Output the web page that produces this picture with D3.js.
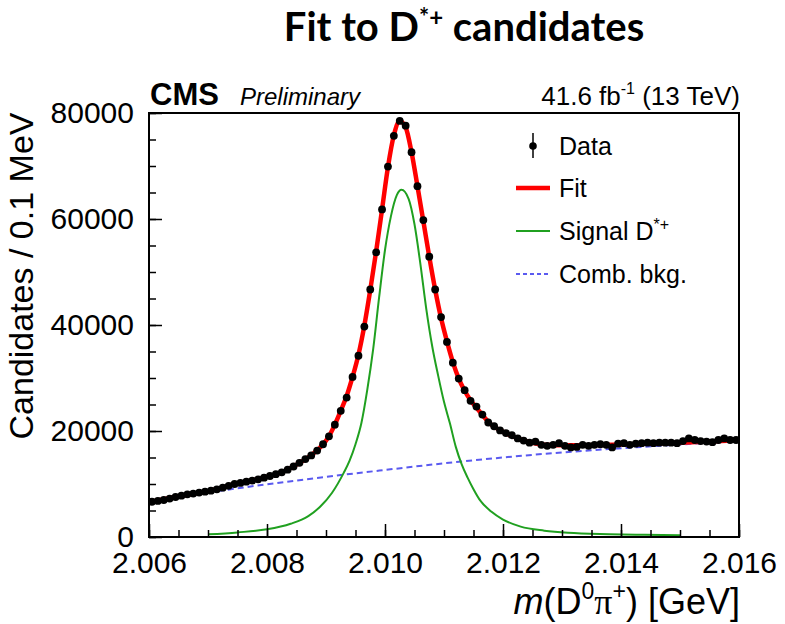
<!DOCTYPE html>
<html>
<head>
<meta charset="utf-8">
<script src="https://cdn.jsdelivr.net/npm/d3@7"></script>
<style>
html,body{margin:0;padding:0;background:#fff;}
svg{display:block;}
text{font-family:"Liberation Sans",Arial,sans-serif;fill:#000;}
</style>
</head>
<body>
<svg id="chart" width="785" height="624"></svg>
<script>
/* Binning of the data histogram (0.1 MeV bins) */
const binStart=2.006, binWidth=0.0001;

/* Data: candidates per bin */
const dataCounts=[
  6650,6800,6980,7250,7550,7800,8050,8200,8380,8550,
  8740,9000,9300,9650,10000,10200,10430,10650,10880,11200,
  11510,11850,12200,12700,13300,14000,14700,15400,16300,17500,
  19000,21200,23800,26300,30200,34200,39700,46700,53700,61800,
  69900,75700,78500,77600,72600,66200,59800,52900,46700,41500,
  36800,32900,29900,27700,25700,24600,23100,21600,20900,20100,
  19600,19200,18600,18200,17800,18000,17400,17200,17400,17700,
  17200,16900,17000,17400,17200,17400,17500,17400,16900,17600,
  17700,17400,17600,17700,17800,17700,17800,17800,17800,17700,
  18100,18600,18300,18100,18000,17900,18300,18600,18300,18300
];

/* Total fit curve */
const fitMass=[2.0060,2.0065,2.0070,2.0075,2.0080,2.0083,2.0085,2.0087,2.0089,
  2.00905,2.00915,2.00925,2.00935,2.00945,2.00955,2.00965,2.00975,2.00985,2.00995,
  2.01005,2.01015,2.01025,2.01035,2.01045,2.01055,2.01065,2.01075,2.01085,2.01095,
  2.01105,2.01115,2.01125,2.01135,2.01145,2.01155,
  2.0118,2.0120,2.0123,2.0127,2.0131,2.0140,2.0150,2.0160];
const fitVals=[6550,7680,8650,10100,11350,12450,13650,15050,16900,
  19000,21200,23800,26600,30200,34400,39900,46600,53900,61800,
  69800,75800,78500,77300,72600,66200,59600,52900,46700,41300,
  36900,33000,29900,27600,25800,24400,
  21200,19850,18400,17400,17300,17450,17800,18250];

/* Signal D*+ component */
const sigMass=[2.0070,2.0075,2.0080,2.0084,2.0087,2.0089,2.0091,2.0093,2.0094,2.0095,
  2.0096,2.0097,2.0098,2.0099,2.0100,2.0101,2.0102,2.01028,
  2.0104,2.0105,2.0106,2.0107,2.0108,2.0109,2.0110,
  2.0111,2.0112,2.0113,2.0114,2.0115,2.0116,
  2.0118,2.0120,2.0123,2.0127,2.0131,2.0138,2.0144,2.0150];
const sigVals=[500,870,1450,2500,3950,5700,8300,12100,14400,17500,
  21500,27800,35500,45200,54150,60500,64500,65500,
  63800,59000,51500,43000,36000,30500,25500,
  21450,17000,13700,11200,9000,7100,
  4800,3300,1950,1200,800,540,420,320];

/* Combinatorial background component */
const bkgMass=[2.007,2.008,2.009,2.010,2.011,2.012,2.013,2.014,2.015,2.016];
const bkgVals=[8400,9950,11350,12650,13900,15000,15950,16750,17450,18100];

/* Axes */
const xTicks=[2.006,2.008,2.010,2.012,2.014,2.016];
const xMinorStep=0.0005;
const yTicks=[0,20000,40000,60000,80000];
const yMinorStep=5000;

const legendLabels=["Data","Fit","Signal D","Comb. bkg."];

/* Layout */
const M={left:149,right:739,top:113,bottom:537};
const svg=d3.select("#chart");
const x=d3.scaleLinear().domain([2.006,2.016]).range([M.left,M.right]);
const y=d3.scaleLinear().domain([0,80000]).range([M.bottom,M.top]);

/* Title */
const title=svg.append("text").attr("x",464).attr("y",41).attr("text-anchor","middle")
  .style("font-family","Lato, 'Open Sans', sans-serif").style("font-weight","bold").style("font-size","40px");
title.append("tspan").text("Fit to D");
title.append("tspan").attr("dy",-15).style("font-size","24px").text("*+");
title.append("tspan").attr("dy",15).text(" candidates");

/* Curves */
const line=(xs,vs)=>d3.line().x((d,i)=>x(xs[i])).y(d=>y(d)).curve(d3.curveMonotoneX)(vs);
const plot=svg.append("g");
plot.append("defs").append("clipPath").attr("id","clip").append("rect")
  .attr("x",M.left).attr("y",M.top).attr("width",M.right-M.left).attr("height",M.bottom-M.top);
const curves=plot.append("g").attr("clip-path","url(#clip)");
curves.append("path").attr("d",line(bkgMass,bkgVals)).attr("fill","none")
  .attr("stroke","#5a5af0").attr("stroke-width",2).attr("stroke-dasharray","6,4");
curves.append("path").attr("d",line(sigMass,sigVals)).attr("fill","none")
  .attr("stroke","#20a020").attr("stroke-width",2);
curves.append("path").attr("d",line(fitMass,fitVals)).attr("fill","none")
  .attr("stroke","#ff0000").attr("stroke-width",4.5);

/* Data points */
plot.append("g").selectAll("circle").data(dataCounts).join("circle")
  .attr("cx",(d,i)=>x(binStart+binWidth*(i+0.5)))
  .attr("cy",d=>y(d)).attr("r",3.9).attr("fill","#000");

/* Axes (ROOT style: ticks inside) */
const fmtX=d3.format(".3f");
const xMinor=d3.range(2.006,2.01601,xMinorStep);
const yMinor=d3.range(0,80001,yMinorStep);
const gx=svg.append("g").attr("transform",`translate(0,${M.bottom})`);
gx.call(d3.axisBottom(x).tickValues(xMinor).tickSize(-7).tickFormat(""));
gx.append("g").call(d3.axisBottom(x).tickValues(xTicks).tickSize(-13).tickPadding(15).tickFormat(fmtX));
const gy=svg.append("g").attr("transform",`translate(${M.left},0)`);
gy.call(d3.axisLeft(y).tickValues(yMinor).tickSize(-7).tickFormat(""));
gy.append("g").call(d3.axisLeft(y).tickValues(yTicks).tickSize(-13).tickPadding(15).tickFormat(d3.format("d")));
svg.selectAll(".domain").remove();
svg.selectAll(".tick line").attr("stroke","#000").attr("stroke-width",1.5);
svg.selectAll(".tick text").style("font-family","'Liberation Sans',Arial,sans-serif").style("font-size","30px").attr("fill","#000");

/* Frame */
svg.append("rect").attr("x",M.left).attr("y",M.top).attr("width",M.right-M.left).attr("height",M.bottom-M.top)
  .attr("fill","none").attr("stroke","#000").attr("stroke-width",2);

/* CMS labels */
svg.append("text").attr("x",150).attr("y",105).style("font-weight","bold").style("font-size","31px").text("CMS");
svg.append("text").attr("x",240).attr("y",105).style("font-style","italic").style("font-size","24px").text("Preliminary");
const lumi=svg.append("text").attr("x",740).attr("y",105).attr("text-anchor","end").style("font-size","26px");
lumi.append("tspan").text("41.6 fb");
lumi.append("tspan").attr("dy",-11).style("font-size","16px").text("-1");
lumi.append("tspan").attr("dy",11).text(" (13 TeV)");

/* Axis titles */
svg.append("text").attr("transform","translate(33,276) rotate(-90)").attr("text-anchor","middle")
  .style("font-size","34px").text("Candidates / 0.1 MeV");
const xl=svg.append("text").attr("x",740).attr("y",614).attr("text-anchor","end").style("font-size","36px");
xl.append("tspan").style("font-style","italic").text("m");
xl.append("tspan").text("(D");
xl.append("tspan").attr("dy",-15).style("font-size","23px").text("0");
xl.append("tspan").attr("dy",15).style("font-family","'Liberation Serif',serif").text("π");
xl.append("tspan").attr("dy",-15).style("font-size","23px").text("+");
xl.append("tspan").attr("dy",15).text(") [GeV]");

/* Legend */
const lg=svg.append("g");
const rowY=[146,188,231,274];
lg.append("line").attr("x1",533).attr("x2",533).attr("y1",133).attr("y2",158).attr("stroke","#000").attr("stroke-width",1.5);
lg.append("circle").attr("cx",533).attr("cy",rowY[0]).attr("r",3.8).attr("fill","#000");
lg.append("line").attr("x1",516).attr("x2",550).attr("y1",rowY[1]).attr("y2",rowY[1]).attr("stroke","#ff0000").attr("stroke-width",4.5);
lg.append("line").attr("x1",516).attr("x2",550).attr("y1",rowY[2]).attr("y2",rowY[2]).attr("stroke","#20a020").attr("stroke-width",2);
lg.append("line").attr("x1",516).attr("x2",550).attr("y1",rowY[3]).attr("y2",rowY[3]).attr("stroke","#5a5af0").attr("stroke-width",2).attr("stroke-dasharray","4,3");
legendLabels.forEach((t,i)=>{
  const tx=lg.append("text").attr("x",559).attr("y",rowY[i]+9).style("font-size","25px").text(t);
  if(i===2) tx.append("tspan").attr("dy",-10).style("font-size","16px").text("*+");
});
</script>
</body>
</html>
